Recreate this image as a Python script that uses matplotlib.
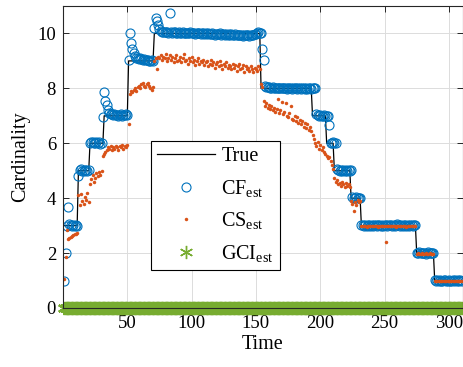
import numpy as np
import matplotlib
matplotlib.use("Agg")
import matplotlib.pyplot as plt

# true cardinality: start time of each level and the level
true_start = [1, 12, 21, 32, 51, 71, 154, 194, 205, 211, 224, 232, 275, 289]
true_level = [3, 5, 6, 7, 9, 10, 8, 7, 6, 5, 4, 3, 2, 1]
t_end = 310

# CF estimate, one value per time step
cf_est = [
    1.0, 2.0, 3.0, 3.68, 3.05, 3.02, 3.0, 3.03, 2.98, 3.01, 3.0,
    4.8, 5.02, 5.05, 5.0, 4.98, 5.03, 5.01, 4.99, 5.02,
    6.0, 6.03, 6.05, 6.02, 6.0, 6.04, 6.01, 6.03, 5.99, 6.02, 6.95,
    7.85, 7.55, 7.38, 7.22, 7.12, 7.08, 7.05, 7.03, 7.06, 7.02,
    7.04, 7.0, 7.03, 7.05, 7.01, 7.04, 7.02, 7.06, 7.03,
    9.05, 10.0, 9.65, 9.42, 9.28, 9.18, 9.12, 9.1, 9.08, 9.1,
    9.06, 9.05, 9.07, 9.03, 9.02, 9.04, 9.0, 8.98, 9.02, 9.0,
    10.2, 10.55, 10.45, 10.3, 10.15, 10.08, 10.06, 10.05, 10.07, 10.04,
    10.06, 10.03, 10.75, 10.05, 10.02, 10.04, 10.06, 10.03, 10.02, 10.05,
    10.03, 10.01, 10.04, 10.02, 10.0, 10.03, 10.01, 10.02, 10.04, 10.0,
    10.02, 10.01, 9.99, 10.03, 10.0, 10.02, 9.98, 10.01, 10.0, 9.99,
    10.01, 9.98, 10.0, 9.97, 9.99, 10.0, 9.98, 9.96, 9.99, 9.97,
    9.98, 10.0, 9.96, 9.97, 9.99, 9.95, 9.98, 9.96, 9.97, 9.95,
    9.97, 9.94, 9.96, 9.98, 9.95, 9.93, 9.96, 9.94, 9.95, 9.92,
    9.94, 9.96, 9.93, 9.95, 9.92, 9.94, 9.93, 9.95, 9.97, 9.99,
    10.02, 10.04, 10.0,
    10.0, 9.45, 9.05, 8.1, 8.06, 8.04, 8.05, 8.03, 8.02, 8.04,
    8.01, 8.03, 8.02, 8.0, 8.03, 8.01, 8.02, 8.0, 8.02, 8.01,
    7.99, 8.02, 8.0, 8.01, 7.99, 8.02, 8.0, 8.01, 7.98, 8.0,
    8.02, 7.99, 8.01, 8.0, 7.98, 8.01, 7.99, 8.0, 8.02, 7.99,
    8.01, 8.0, 8.02, 7.05, 7.02, 7.0, 7.03, 7.01, 6.99, 7.02, 7.0,
    7.01, 6.98, 6.65, 6.02, 6.0, 6.03,
    6.0, 6.02, 5.05, 5.02, 5.0, 5.03, 4.98, 5.01, 5.0, 5.02, 4.99, 5.01, 5.0,
    5.02, 4.05, 4.02, 4.0, 4.03, 3.99, 4.02, 4.0,
    3.01, 3.03, 2.99, 3.02, 3.0, 3.04, 3.01, 2.98, 3.02, 3.0,
    3.03, 3.01, 2.99, 3.02, 3.04, 3.0, 3.02, 2.98, 3.01, 3.03,
    3.0, 3.02, 3.04, 3.01, 2.99, 3.03, 3.0, 3.02, 3.05, 3.01,
    2.99, 3.02, 3.0, 3.03, 3.01, 2.98, 3.02, 3.0, 3.01, 3.03,
    3.0, 3.02, 3.01,
    2.02, 2.0, 2.03, 1.99, 2.01, 2.02, 2.0, 1.98, 2.01, 2.03, 2.0, 2.01, 1.99, 2.02,
    1.01, 0.99, 1.02, 1.0, 1.01, 0.98, 1.0, 1.02, 1.01, 0.99, 1.0,
    1.02, 1.0, 0.99, 1.01, 1.0, 1.02, 0.99, 1.01, 1.0, 1.02, 1.0,
]

# CS estimate
cs_est = [
    1.05, 1.85, 2.85, 2.5, 2.55, 2.6, 2.62, 2.65, 2.7, 2.68, 2.75,
    4.1, 3.75, 4.15, 3.9, 3.8, 4.05, 3.95, 4.2, 3.85,
    4.5, 4.7, 4.85, 4.6, 4.75, 4.9, 4.8, 4.95, 4.85, 5.0, 5.55,
    5.6, 5.7, 5.75, 5.85, 5.8, 5.9, 5.75, 5.85, 5.8, 5.9,
    5.85, 5.75, 5.9, 5.85, 5.95, 5.8, 5.9, 5.85, 5.95,
    6.7, 7.8, 7.9, 7.85, 7.95, 8.0, 7.9, 8.05, 8.1, 8.0,
    8.15, 8.2, 8.1, 8.05, 8.15, 8.2, 8.1, 8.0, 7.95, 8.05,
    9.0, 9.1, 8.7, 9.15, 9.1, 9.2, 9.05, 9.15, 9.1, 9.25,
    9.0, 9.1, 9.2, 9.05, 9.15, 8.95, 9.1, 9.2, 9.0, 9.05,
    9.15, 8.95, 9.1, 9.25, 9.0, 9.05, 8.9, 9.1, 9.0, 9.15,
    8.95, 9.05, 8.85, 9.0, 9.1, 8.9, 9.0, 8.95, 9.05, 8.85,
    8.95, 9.0, 8.8, 8.9, 9.05, 8.85, 8.95, 8.75, 8.9, 8.95,
    8.8, 9.0, 8.85, 8.7, 8.9, 8.8, 8.95, 8.75, 8.85, 8.8,
    8.7, 8.9, 8.75, 8.85, 8.65, 8.8, 8.9, 8.7, 8.75, 8.85,
    8.6, 8.8, 8.7, 8.75, 8.65, 8.8, 8.7, 8.6, 8.75, 8.7,
    8.65, 8.8, 8.7,
    8.15, 8.05, 7.55, 7.35, 7.45, 7.3, 7.4, 7.25, 7.35, 7.2,
    7.3, 7.15, 7.25, 7.6, 7.1, 7.2, 7.5, 7.05, 7.15, 7.45,
    7.0, 6.95, 7.1, 7.35, 6.9, 6.85, 7.0, 6.8, 6.95, 6.75,
    6.85, 6.7, 6.8, 6.6, 6.75, 6.55, 6.7, 6.5, 6.6, 6.45,
    6.3, 6.15, 6.0, 5.9, 6.05, 5.8, 5.95, 5.75, 5.85, 5.7, 5.6,
    5.55, 5.45, 5.5, 5.35, 5.2, 5.05,
    4.75, 4.6, 4.65, 4.5, 4.55, 4.45, 4.6, 4.5, 4.4, 4.55, 4.45, 4.5, 4.4,
    3.9, 3.8, 3.55, 3.85, 3.75, 3.95, 3.85, 3.9,
    2.98, 2.97, 2.99, 2.98, 2.96, 2.99, 2.98, 2.97, 2.99, 2.98,
    2.97, 2.99, 2.98, 2.96, 2.98, 2.99, 2.97, 2.98, 2.99, 2.4,
    2.98, 2.97, 2.99, 2.98, 2.97, 2.99, 2.98, 2.96, 2.98, 2.99,
    2.97, 2.98, 2.99, 2.97, 2.98, 2.96, 2.98, 2.99, 2.97, 2.98,
    2.99, 2.97, 2.98,
    1.98, 1.99, 1.97, 1.98, 1.99, 1.97, 1.98, 1.99, 1.98, 1.97, 1.99, 1.98, 1.97, 1.98,
    0.98, 0.99, 0.97, 0.98, 0.99, 0.98, 0.97, 0.99, 0.98, 0.99, 0.97,
    0.98, 0.99, 0.98, 0.97, 0.98, 0.99, 0.98, 0.97, 0.99, 0.98, 0.98,
]

# GCI estimate stays at zero the whole time
gci_est = [0.0] * t_end

x_ticks = [50, 100, 150, 200, 250, 300]
y_ticks = [0, 2, 4, 6, 8, 10]

t = np.arange(1, t_end + 1)
seg_len = np.diff(true_start + [t_end + 1])
true_card = np.repeat(true_level, seg_len)

plt.rcParams['font.family'] = ['Liberation Serif', 'DejaVu Serif']
plt.rcParams['mathtext.default'] = 'regular'

fig = plt.figure(figsize=(4.64, 3.67), dpi=100)
ax = fig.add_axes([63/464, 1 - 308/367, 400/464, 302/367])

ax.plot(t, true_card, color='black', lw=0.9, label='True')
ax.plot(t, cf_est, 'o', ms=6.5, mfc='none', mec='#0072BD', mew=0.8,
        label='CF$_{est}$')
ax.plot(t, cs_est, 'o', ms=2.5, color='#D95319', mec='none',
        label='CS$_{est}$')
ax.plot(t, gci_est, marker=(6, 2, 0), ls='none', ms=9.5, mec='#77AC30',
        mew=1.6, clip_on=False, label='GCI$_{est}$')

ax.set_xlim(0, 311)
ax.set_ylim(0, 11)
ax.set_xticks(x_ticks)
ax.set_yticks(y_ticks)
ax.grid(True, color='#dcdcdc', lw=0.7)
ax.set_axisbelow(True)
ax.tick_params(direction='in', top=True, right=True, length=4,
               width=0.7, color='#262626', labelsize=13.5, pad=5)
for s in ax.spines.values():
    s.set_color('#262626')
    s.set_linewidth(0.8)

ax.set_xlabel('Time', fontsize=14.5, labelpad=2)
ax.set_ylabel('Cardinality', fontsize=14.5, labelpad=5)

leg = ax.legend(loc='upper left', bbox_to_anchor=(0.22, 0.553),
                fontsize=14.5, fancybox=False, framealpha=1,
                edgecolor='black', handlelength=2.9, handletextpad=0.3,
                labelspacing=0.58, borderpad=0.3, borderaxespad=0)
leg.get_frame().set_linewidth(0.8)
leg.legend_handles[3].set_markeredgewidth(1.0)

plt.savefig('out.png', dpi=100)
